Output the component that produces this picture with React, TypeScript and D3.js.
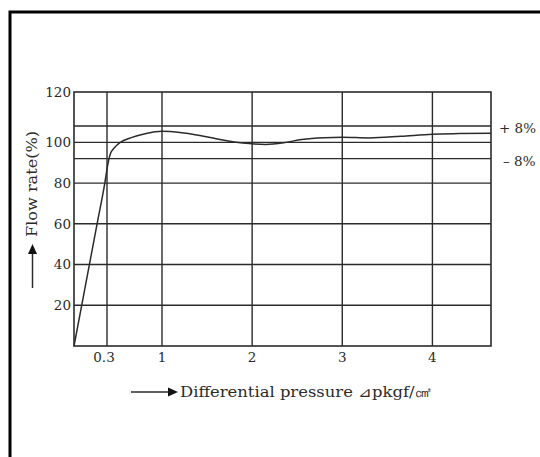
import { useEffect, useRef } from "react"
import * as d3 from "d3"

// curve
const pressure = [0, 0.07, 0.14, 0.21, 0.28, 0.305, 0.34, 0.4, 0.47, 0.6, 0.8, 1.0, 1.2, 1.42, 1.6, 1.8, 2.0, 2.15, 2.35, 2.55, 2.8, 3.0, 3.3, 3.65, 4.0, 4.3, 4.65]
const flowRate = [0, 20, 40, 60, 80, 88, 94, 97.6, 100, 102.2, 104.4, 105.4, 104.9, 103.4, 101.8, 100.2, 99.3, 99.0, 99.8, 101.4, 102.3, 102.5, 102.2, 103, 104, 104.3, 104.5]

const xTicks = [0.3, 1, 2, 3, 4]
const xTickLabels = ["0.3", "1", "2", "3", "4"]
const yTicks = [20, 40, 60, 80, 100, 120]
const bandLines = [92, 108]
const bandLabels = ["– 8%", "+ 8%"]

const W = 540
const H = 457
const FONT = "'DejaVu Serif', serif"
const INK = "#2b2b2b"

export default function App() {
  const svgRef = useRef<SVGSVGElement>(null)

  useEffect(() => {
    const svg = d3.select(svgRef.current)
    svg.selectAll("*").remove()

    // the drawing is not quite linear: 0.3 and the 120 edge sit off the even grid
    const x = d3.scaleLinear().domain([0, 0.3, 1, 4.65]).range([74, 107, 162, 491])
    const y = d3.scaleLinear().domain([0, 110, 120]).range([346, 122, 92])

    const [x0, x1] = [x(0), x(4.65)]
    const [y0, y1] = [y(0), y(120)]

    // outer frame
    svg.append("path")
      .attr("d", `M10,${H} V12 H${W}`)
      .attr("fill", "none")
      .attr("stroke", "#000")
      .attr("stroke-width", 3)

    const grid = svg.append("g").attr("stroke", INK).attr("stroke-width", 1.4)

    grid.selectAll("line.h")
      .data([...yTicks.filter(v => v < 120), ...bandLines])
      .join("line")
      .attr("x1", x0).attr("x2", x1)
      .attr("y1", d => y(d)).attr("y2", d => y(d))

    grid.selectAll("line.v")
      .data(xTicks)
      .join("line")
      .attr("x1", d => x(d)).attr("x2", d => x(d))
      .attr("y1", y0).attr("y2", y1)

    svg.append("rect")
      .attr("x", x0).attr("y", y1)
      .attr("width", x1 - x0).attr("height", y0 - y1)
      .attr("fill", "none")
      .attr("stroke", INK)
      .attr("stroke-width", 1.6)

    // flow curve
    const line = d3.line<number>()
      .x((_, i) => x(pressure[i]))
      .y(d => y(d))
      .curve(d3.curveMonotoneX)

    svg.append("path")
      .datum(flowRate)
      .attr("fill", "none")
      .attr("stroke", INK)
      .attr("stroke-width", 1.5)
      .attr("d", line)

    const text = svg.append("g")
      .attr("font-family", FONT)
      .attr("font-size", 13.5)
      .attr("fill", INK)

    text.selectAll("text.y")
      .data(yTicks)
      .join("text")
      .attr("x", 71)
      .attr("y", d => y(d))
      .attr("dy", "0.36em")
      .attr("text-anchor", "end")
      .text(d => d)

    text.selectAll("text.x")
      .data(xTicks)
      .join("text")
      .attr("x", (d, i) => x(d) - (i === 0 ? 3 : 0))
      .attr("y", 357)
      .attr("dy", "0.36em")
      .attr("text-anchor", "middle")
      .text((_, i) => xTickLabels[i])

    text.selectAll("text.band")
      .data(bandLines)
      .join("text")
      .attr("x", (_, i) => (i === 0 ? 503 : 499))
      .attr("y", d => y(d) + 2)
      .attr("dy", "0.36em")
      .text((_, i) => bandLabels[i])

    // y title with arrow
    svg.append("line")
      .attr("x1", 32.5).attr("x2", 32.5)
      .attr("y1", 288).attr("y2", 252)
      .attr("stroke", INK).attr("stroke-width", 1.5)
    svg.append("path")
      .attr("d", "M32.5,244 L28,254 L37,254 Z")
      .attr("fill", "#111")

    text.append("text")
      .attr("transform", "translate(31.5,184) rotate(-90)")
      .attr("dy", "0.36em")
      .attr("text-anchor", "middle")
      .attr("font-size", 14)
      .attr("textLength", 106)
      .attr("lengthAdjust", "spacingAndGlyphs")
      .text("Flow rate(%)")

    // x title with arrow
    svg.append("line")
      .attr("x1", 131).attr("x2", 170)
      .attr("y1", 392).attr("y2", 392)
      .attr("stroke", INK).attr("stroke-width", 1.5)
    svg.append("path")
      .attr("d", "M178,392 L168,387.5 L168,396.5 Z")
      .attr("fill", "#111")

    text.append("text")
      .attr("x", 180)
      .attr("y", 392)
      .attr("dy", "0.36em")
      .attr("font-size", 14)
      .attr("textLength", 251)
      .attr("lengthAdjust", "spacingAndGlyphs")
      .text("Differential pressure ⊿pkgf/㎠")
  }, [])

  return (
    <svg
      ref={svgRef}
      width={W}
      height={H}
      viewBox={`0 0 ${W} ${H}`}
      style={{ position: "absolute", left: 0, top: 0, background: "#fff" }}
    />
  )
}
